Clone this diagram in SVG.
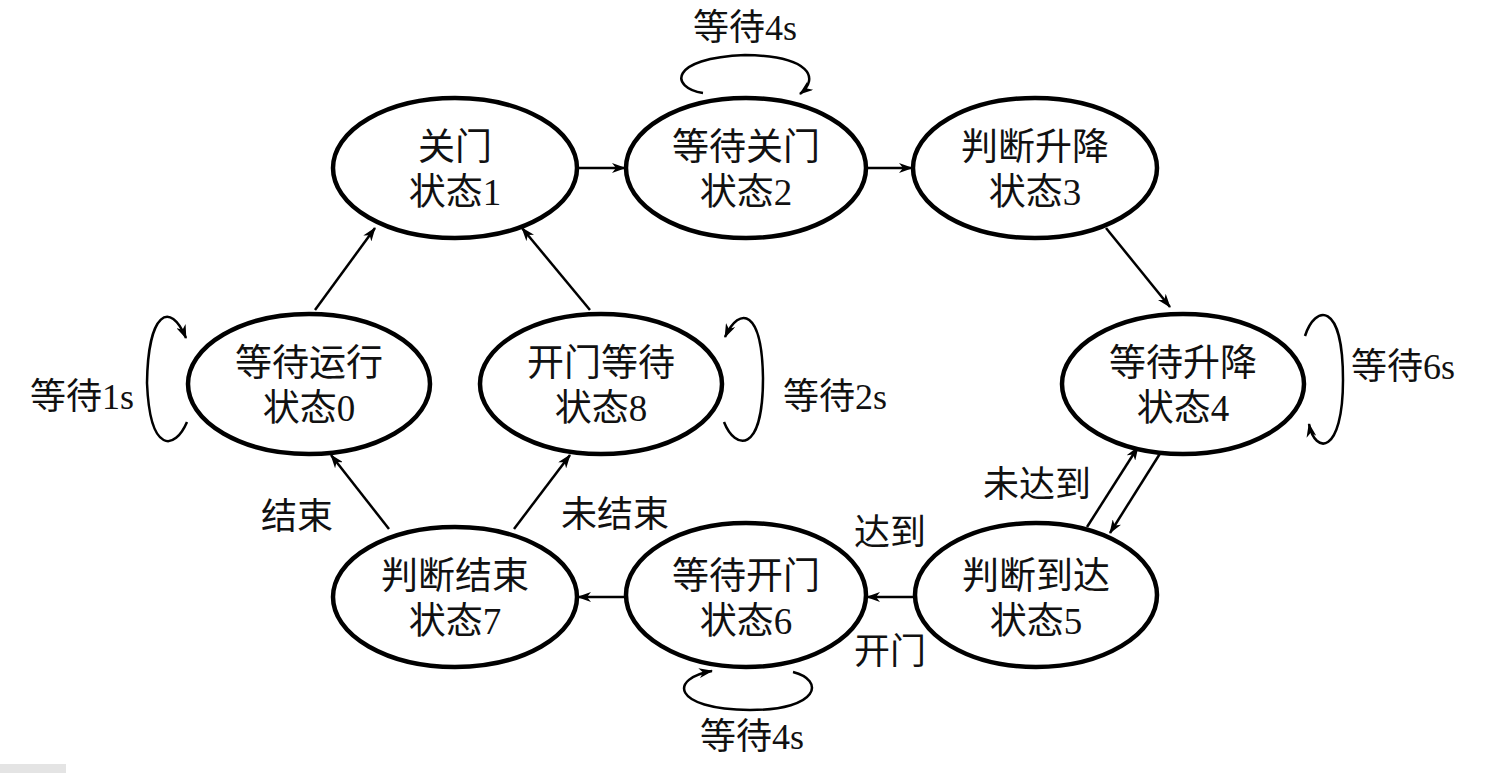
<svg xmlns="http://www.w3.org/2000/svg" width="1491" height="773" viewBox="0 0 1491 773">
<defs>
<style>
.node ellipse{fill:#fff;stroke:#000;stroke-width:4.5}
text{font-family:"Liberation Serif","Noto Sans CJK SC",serif;font-size:37px;fill:#111;text-anchor:middle}
.lbl{font-size:36px}
.edge{fill:none;stroke:#000;stroke-width:2.5}
</style>
<marker id="ah" viewBox="0 0 14 10" refX="13" refY="5" markerWidth="14" markerHeight="10" markerUnits="userSpaceOnUse" orient="auto">
<path d="M0,0 L14,5 L0,10 L4,5 z" fill="#000"/>
</marker>
</defs>
<rect width="1491" height="773" fill="#fff"/>
<rect x="0" y="764" width="66" height="9" fill="#e4e4e4"/>
<g id="connectors">
<path class="edge" d="M577,168 L625,168" marker-end="url(#ah)"/>
<path class="edge" d="M866,168 L912,168" marker-end="url(#ah)"/>
<path class="edge" d="M1106,228 L1170,307" marker-end="url(#ah)"/>
<path class="edge" d="M1087,527 L1138,447" marker-end="url(#ah)"/>
<path class="edge" d="M1161,452 L1110,533" marker-end="url(#ah)"/>
<path class="edge" d="M915,597 L867,597" marker-end="url(#ah)"/>
<path class="edge" d="M626,597 L578,597" marker-end="url(#ah)"/>
<path class="edge" d="M389,529 L331,455" marker-end="url(#ah)"/>
<path class="edge" d="M514,529 L570,455" marker-end="url(#ah)"/>
<path class="edge" d="M315,310 L375,228" marker-end="url(#ah)"/>
<path class="edge" d="M590,310 L522,228" marker-end="url(#ah)"/>
<path class="edge" d="M703,93 C670,88 668,58 745,55 C810,56 820,78 800,94" marker-end="url(#ah)"/>
<path class="edge" d="M187,422 C175,450 150,455 147,383 C148,312 170,300 186,338" marker-end="url(#ah)"/>
<path class="edge" d="M724,422 C735,450 763,455 763,378 C762,310 740,305 725,337" marker-end="url(#ah)"/>
<path class="edge" d="M1305,336 C1315,305 1343,300 1343,380 C1343,455 1315,455 1309,424" marker-end="url(#ah)"/>
<path class="edge" d="M793,672 C825,680 820,710 750,710 C670,709 670,678 712,671" marker-end="url(#ah)"/>
</g>
<g id="node1" class="node"><ellipse cx="455" cy="168" rx="122" ry="70"/><text x="455" y="160">关门</text><text x="455" y="205">状态1</text></g>
<g id="node2" class="node"><ellipse cx="746" cy="168" rx="120" ry="70"/><text x="746" y="160">等待关门</text><text x="746" y="205">状态2</text></g>
<g id="node3" class="node"><ellipse cx="1035" cy="168" rx="122" ry="70"/><text x="1035" y="160">判断升降</text><text x="1035" y="205">状态3</text></g>
<g id="node4" class="node"><ellipse cx="1183" cy="384" rx="121" ry="70"/><text x="1183" y="376">等待升降</text><text x="1183" y="421">状态4</text></g>
<g id="node5" class="node"><ellipse cx="1036" cy="595" rx="121" ry="72"/><text x="1036" y="589">判断到达</text><text x="1036" y="634">状态5</text></g>
<g id="node6" class="node"><ellipse cx="746" cy="595" rx="120" ry="72"/><text x="746" y="589">等待开门</text><text x="746" y="634">状态6</text></g>
<g id="node7" class="node"><ellipse cx="455" cy="597" rx="122" ry="70"/><text x="455" y="589">判断结束</text><text x="455" y="634">状态7</text></g>
<g id="node0" class="node"><ellipse cx="309" cy="384" rx="121" ry="70"/><text x="309" y="376">等待运行</text><text x="309" y="421">状态0</text></g>
<g id="node8" class="node"><ellipse cx="601" cy="384" rx="121" ry="70"/><text x="601" y="376">开门等待</text><text x="601" y="421">状态8</text></g>
<g id="labels">
<text class="lbl" x="745" y="40">等待4s</text>
<text class="lbl" x="752" y="749">等待4s</text>
<text class="lbl" x="82" y="409">等待1s</text>
<text class="lbl" x="835" y="409">等待2s</text>
<text class="lbl" x="1403" y="379">等待6s</text>
<text class="lbl" x="297" y="529">结束</text>
<text class="lbl" x="615" y="527">未结束</text>
<text class="lbl" x="1037" y="497">未达到</text>
<text class="lbl" x="890" y="545">达到</text>
<text class="lbl" x="890" y="664">开门</text>
</g>
</svg>
